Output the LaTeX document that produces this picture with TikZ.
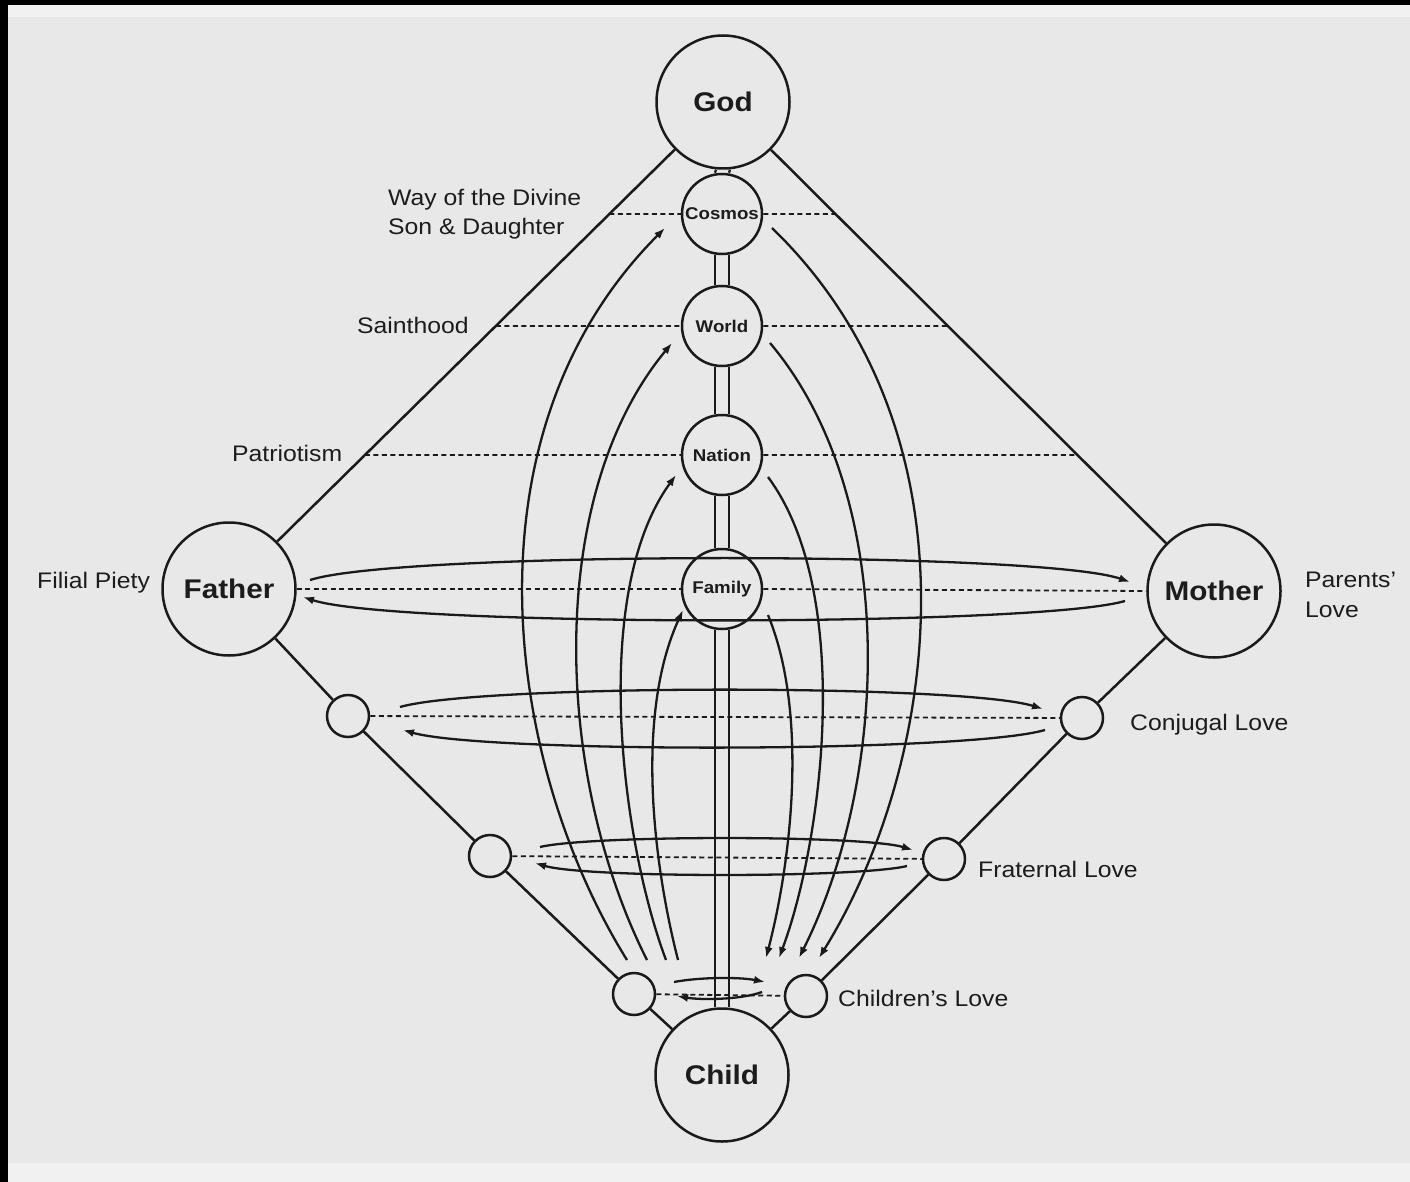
\documentclass[tikz,border=0pt]{standalone}
\usepackage{fontspec}
\setmainfont{Liberation Sans}
\newfontfamily\lblfont[FakeStretch=1.1]{Liberation Sans}
\usetikzlibrary{arrows.meta}
\definecolor{paper}{HTML}{E8E8E8}
\definecolor{paperlight}{HTML}{F1F1F1}
\definecolor{ink}{HTML}{1A1A1A}
\definecolor{txt}{HTML}{1C1C1C}
\begin{document}
\begin{tikzpicture}[x=1pt,y=-1pt,
  bigc/.style={circle, draw=ink, line width=2.5pt, minimum size=133pt, inner sep=0pt,
     font=\lblfont\bfseries\fontsize{27}{30}\selectfont, text=txt},
  midc/.style={circle, draw=ink, line width=2.5pt, minimum size=80pt, inner sep=0pt,
     font=\lblfont\bfseries\fontsize{17}{20}\selectfont, text=txt},
  smallc/.style={circle, draw=ink, line width=2.5pt, minimum size=42pt, inner sep=0pt},
  lbl/.style={anchor=base west, inner sep=0pt,
     font=\lblfont\fontsize{22.5}{26}\selectfont, text=txt},
  dashline/.style={draw=ink, line width=1.8pt, dash pattern=on 5pt off 3.5pt},
  conn/.style={draw=ink, line width=2.5pt},
  dbl/.style={draw=ink, line width=2.3pt},
  arr/.style={draw=ink, line width=2.3pt, -{Latex[length=11pt,width=8pt]}}
]
% paper
\fill[paper] (0,0) rectangle (1410,1182);
\useasboundingbox (0,0) rectangle (1410,1182);
\fill[paperlight] (0,5) rectangle (1410,17);
\fill[paperlight] (0,1163) rectangle (1410,1182);
\fill[black] (0,0) rectangle (1410,5);
\fill[black] (0,0) rectangle (8,1182);

% circles
\node[bigc] (god) at (723,102) {God};
\node[midc] (cosmos) at (722,214) {Cosmos};
\node[midc] (world) at (722,326) {World};
\node[midc] (nation) at (722,455) {Nation};
\node[midc] (family) at (722,589) {Family};
\node[bigc] (child) at (722,1075) {Child};
\node[bigc] (father) at (229,589) {Father};
\node[bigc] (mother) at (1214,591) {Mother};
\node[smallc] (cjl) at (348,716) {};
\node[smallc] (cjr) at (1082,718) {};
\node[smallc] (frl) at (490,856) {};
\node[smallc] (frr) at (944,859) {};
\node[smallc] (chl) at (634,994) {};
\node[smallc] (chr) at (806,996) {};

% outer frame lines
\draw[conn] (god) -- (father);
\draw[conn] (god) -- (mother);
\draw[conn] (father) -- (cjl);
\draw[conn] (cjl) -- (frl);
\draw[conn] (frl) -- (chl);
\draw[conn] (chl) -- (child);
\draw[conn] (mother) -- (cjr);
\draw[conn] (cjr) -- (frr);
\draw[conn] (frr) -- (chr);
\draw[conn] (chr) -- (child);

% central double lines
\foreach \a/\b in {god/cosmos, cosmos/world, world/nation, nation/family, family/child} {
  \draw[dbl] ([xshift=-7pt]\a.south) -- ([xshift=-7pt]\b.north);
  \draw[dbl] ([xshift=7pt]\a.south) -- ([xshift=7pt]\b.north);
}

% dashed levels
\coordinate (cosL) at (intersection cs: first line={(god.center)--(father.center)}, second line={(cosmos.center)--(cosmos.east)});
\coordinate (cosR) at (intersection cs: first line={(god.center)--(mother.center)}, second line={(cosmos.center)--(cosmos.east)});
\coordinate (worL) at (intersection cs: first line={(god.center)--(father.center)}, second line={(world.center)--(world.east)});
\coordinate (worR) at (intersection cs: first line={(god.center)--(mother.center)}, second line={(world.center)--(world.east)});
\coordinate (natL) at (intersection cs: first line={(god.center)--(father.center)}, second line={(nation.center)--(nation.east)});
\coordinate (natR) at (intersection cs: first line={(god.center)--(mother.center)}, second line={(nation.center)--(nation.east)});
\draw[dashline] (cosL) -- (cosmos.west);
\draw[dashline] (cosmos.east) -- (cosR);
\draw[dashline] (worL) -- (world.west);
\draw[dashline] (world.east) -- (worR);
\draw[dashline] (natL) -- (nation.west);
\draw[dashline] (nation.east) -- (natR);
\draw[dashline] (father.east) -- (family.west);
\draw[dashline] (family.east) -- (mother.west);
\draw[dashline] (cjl) -- (cjr);
\draw[dashline] (frl) -- (frr);
\draw[dashline] (chl) -- (chr);

% horizontal give-and-take arrows
\coordinate (fmA) at (310,580);  \coordinate (fmB) at (1130,582);
\coordinate (mfA) at (1125,601); \coordinate (mfB) at (303,597);
\draw[arr] (fmA) .. controls (400,551) and (1040,551) .. (fmB);
\draw[arr] (mfA) .. controls (1035,627) and (395,627) .. (mfB);
\coordinate (cjA) at (400,707);  \coordinate (cjB) at (1043,709);
\coordinate (cjC) at (1045,730); \coordinate (cjD) at (403,730);
\draw[arr] (cjA) .. controls (480,684) and (963,684) .. (cjB);
\draw[arr] (cjC) .. controls (965,753) and (483,753) .. (cjD);
\coordinate (frA) at (540,847);  \coordinate (frB) at (913,850);
\coordinate (frC) at (907,866);  \coordinate (frD) at (535,863);
\draw[arr] (frA) .. controls (590,835) and (863,835) .. (frB);
\draw[arr] (frC) .. controls (857,878) and (585,878) .. (frD);
\coordinate (chA) at (674,982);  \coordinate (chB) at (765,982);
\coordinate (chC) at (762,992);  \coordinate (chD) at (677,996);
\draw[arr] (chA) .. controls (700,977) and (740,977) .. (chB);
\draw[arr] (chC) .. controls (740,1000) and (700,1000) .. (chD);

% vertical arcs, rising on the left
\coordinate (lc0) at (627,960); \coordinate (lc1) at (665,228);
\coordinate (lw0) at (647,960); \coordinate (lw1) at (672,343);
\coordinate (ln0) at (666,960); \coordinate (ln1) at (676,475);
\coordinate (lf0) at (678,960); \coordinate (lf1) at (683,610);
\draw[arr] (lc0) .. controls (505,764) and (459,434) .. (lc1);
\draw[arr] (lw0) .. controls (554,776) and (545,496) .. (lw1);
\draw[arr] (ln0) .. controls (621,840) and (590,593) .. (ln1);
\draw[arr] (lf0) .. controls (652,858) and (636,712) .. (lf1);
% vertical arcs, descending on the right
\coordinate (rc0) at (772,228); \coordinate (rc1) at (819,958);
\coordinate (rw0) at (770,343); \coordinate (rw1) at (799,958);
\coordinate (rn0) at (768,477); \coordinate (rn1) at (779,958);
\coordinate (rf0) at (768,615); \coordinate (rf1) at (766,958);
\draw[arr] (rc0) .. controls (985,434) and (939,764) .. (rc1);
\draw[arr] (rw0) .. controls (899,496) and (890,776) .. (rw1);
\draw[arr] (rn0) .. controls (854,593) and (823,840) .. (rn1);
\draw[arr] (rf0) .. controls (808,712) and (792,858) .. (rf1);

% labels
\node[lbl] (lway) at (388,206) {Way of the Divine};
\node[lbl] (lson) at (388,235) {Son \& Daughter};
\node[lbl] (lsaint) at (357,333) {Sainthood};
\node[lbl] (lpat) at (232,461) {Patriotism};
\node[lbl] (lfil) at (37,588) {Filial Piety};
\node[lbl] (lpar) at (1305,587) {Parents’};
\node[lbl] (llove) at (1305,617) {Love};
\node[lbl] (lcon) at (1130,730) {Conjugal Love};
\node[lbl] (lfra) at (978,877) {Fraternal Love};
\node[lbl] (lchi) at (838,1006) {Children’s Love};
\end{tikzpicture}
\end{document}
